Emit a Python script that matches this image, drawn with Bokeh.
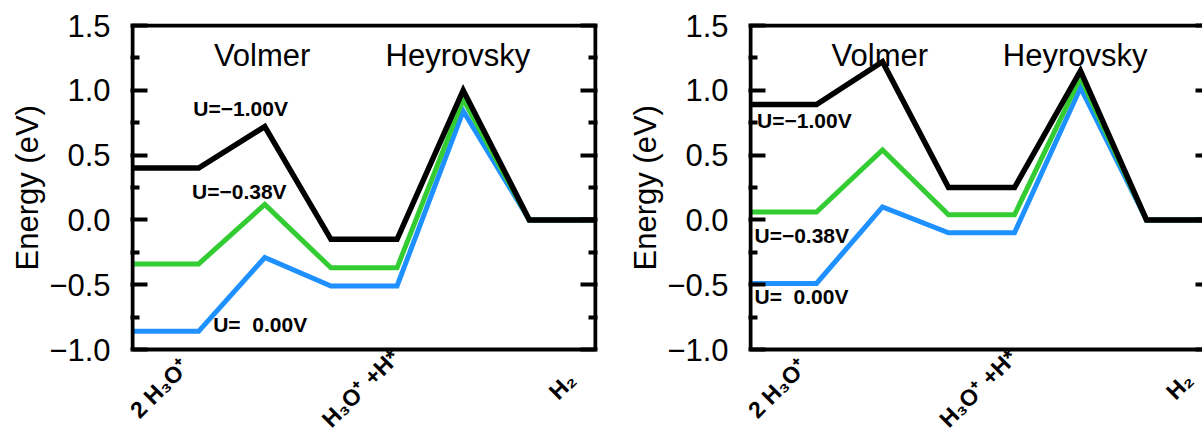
from bokeh.plotting import figure
from bokeh.models import FixedTicker, LinearAxis, Label, Range1d, BoxAnnotation, Title
from bokeh.layouts import row
from bokeh.core.properties import value
from bokeh.embed import file_html
from bokeh.resources import INLINE

# ---------------- data ----------------
state_kinds = ["state", "ts", "state", "ts", "state"]
state_labels = ["2 H\u2083O\u207a", "H\u2083O\u207a +H*", "H\u2082"]
step_names = ["Volmer", "Heyrovsky"]
potential_labels = ["U=\u22121.00V", "U=\u22120.38V", "U=\u00a0 0.00V"]
series_colors = ["#000000", "#33cc33", "#1e90ff"]

# left panel energies (eV) per potential: 2H3O+, TS Volmer, H3O+ + H*, TS Heyrovsky, H2
left_u_m100 = [0.40, 0.72, -0.15, 1.00, 0.00]
left_u_m038 = [-0.34, 0.12, -0.37, 0.93, 0.00]
left_u_000 = [-0.86, -0.29, -0.51, 0.84, 0.00]

# right panel energies (eV)
right_u_m100 = [0.89, 1.22, 0.25, 1.15, 0.00]
right_u_m038 = [0.06, 0.54, 0.04, 1.10, 0.00]
right_u_000 = [-0.49, 0.10, -0.10, 1.02, 0.00]

y_ticks = [-1.0, -0.5, 0.0, 0.5, 1.0, 1.5]
y_tick_labels = ["\u22121.0", "\u22120.5", "0.0", "0.5", "1.0", "1.5"]
y_minor_ticks = [-0.75, -0.25, 0.25, 0.75, 1.25]
Y_MIN, Y_MAX = -1.0, 1.5
X_MAX = 7

# annotation placement (data coordinates)
state_label_x = [0.41, 3.45, 6.5]
state_label_y = [-1.30, -1.30, -1.28]
step_label_x = [1.96, 4.92]
step_label_y = 1.27
left_pot_label_x = [0.92, 0.90, 1.22]
left_pot_label_y = [0.86, 0.22, -0.81]
right_pot_label_x = [0.10, 0.06, 0.06]
right_pot_label_y = [0.77, -0.12, -0.59]

FONT = "Liberation Sans"
H = 436
TOP = 23          # frame top (px), 2 px above the box line centre
PPE = 129.6       # px per eV


def profile(energies):
    xs, ys = [], []
    pos = 0
    for kind, e in zip(state_kinds, energies):
        if kind == "state":
            xs += [pos, pos + 1]
            ys += [e, e]
            pos += 2
        else:
            xs.append(pos)
            ys.append(e)
            pos += 1
    return xs, ys


def style_yaxis(ax, labels=True, tick_in=17, minor_in=9):
    ax.ticker = FixedTicker(ticks=y_ticks, minor_ticks=y_minor_ticks)
    ax.major_tick_in = tick_in
    ax.major_tick_out = 0
    ax.minor_tick_in = minor_in
    ax.minor_tick_out = 0
    ax.major_tick_line_width = 4
    ax.minor_tick_line_width = 4
    ax.major_tick_line_color = "black"
    ax.minor_tick_line_color = "black" if minor_in > 0 else None
    ax.axis_line_color = None
    if labels:
        ax.major_label_overrides = dict(zip(y_ticks, y_tick_labels))
        ax.major_label_text_font = FONT
        ax.major_label_text_font_size = "31px"
        ax.major_label_text_color = "black"
        ax.major_label_standoff = 20
    else:
        ax.major_label_overrides = {t: "" for t in y_ticks}
        ax.major_label_standoff = 0
        ax.major_label_text_font_size = "1px"


def make_panel(energy_sets, pot_x, pot_y, width, border_left, border_right, ppu, right_cut):
    frame_w = width - border_left - border_right
    x0 = -2 / ppu
    y1 = Y_MAX + 2 / PPE
    p = figure(width=width, height=H,
               x_range=Range1d(x0, x0 + frame_w / ppu),
               y_range=Range1d(y1 - (H - TOP) / PPE, y1),
               x_axis_type=None, output_backend="svg", toolbar_location=None,
               min_border_left=border_left, min_border_right=border_right,
               min_border_top=TOP, min_border_bottom=0)
    p.outline_line_color = None
    p.grid.visible = False
    p.background_fill_color = "white"
    p.border_fill_color = "white"

    ya = p.yaxis[0]
    style_yaxis(ya)
    ra = LinearAxis()
    if right_cut:
        style_yaxis(ra, labels=False, tick_in=7, minor_in=0)
    else:
        style_yaxis(ra, labels=False)
    p.add_layout(ra, "right")

    # y-axis title, starting 166 px above the bottom of the panel
    p.add_layout(Title(text="Energy (eV)", text_font=FONT, text_font_size="31px",
                       text_font_style="normal", text_color="black", align="left",
                       offset=166, standoff=4), "left")

    # lines: draw blue first, black last
    for energies, color in reversed(list(zip(energy_sets, series_colors))):
        xs, ys = profile(energies)
        p.line(xs, ys, line_color=color, line_width=5.5 if color == "#000000" else 5,
               line_join="miter")

    # plot box
    p.add_layout(BoxAnnotation(left=0, right=X_MAX, bottom=Y_MIN, top=Y_MAX, fill_alpha=0,
                               line_color="black", line_width=4, line_alpha=1))

    for name, sx in zip(step_names, step_label_x):
        p.add_layout(Label(x=sx, y=step_label_y, text=name, text_font=FONT, text_font_size="31px",
                           text_align="center", text_baseline="alphabetic", text_color="black"))
    for txt, lx, ly in zip(potential_labels, pot_x, pot_y):
        p.add_layout(Label(x=lx, y=ly, text=txt, text_font=FONT, text_font_size="21px",
                           text_font_style="bold", text_align="left", text_baseline="middle",
                           text_color="black"))
    p.text(x=state_label_x, y=state_label_y, text=state_labels, angle=45, angle_units="deg",
           text_align="center", text_baseline="middle", text_font=value(FONT),
           text_font_style="bold", text_font_size="23px", text_color="black")
    return p


left = make_panel([left_u_m100, left_u_m038, left_u_000], left_pot_label_x, left_pot_label_y,
                  width=618, border_left=130, border_right=21, ppu=66.14, right_cut=False)
right = make_panel([right_u_m100, right_u_m038, right_u_000], right_pot_label_x, right_pot_label_y,
                   width=584, border_left=130, border_right=0, ppu=66.0, right_cut=True)

layout = row(left, right)
open("out.html", "w").write(file_html(layout, INLINE))
